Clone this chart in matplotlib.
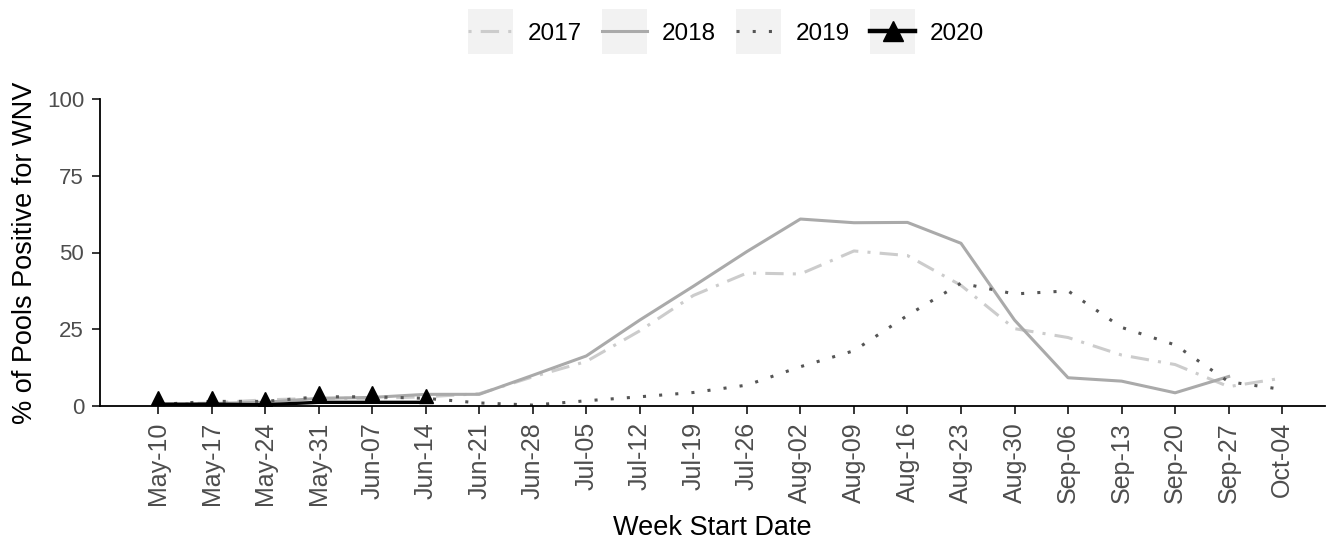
import numpy as np
import matplotlib
matplotlib.use("Agg")
import matplotlib.pyplot as plt
from matplotlib.lines import Line2D
from matplotlib.patches import Rectangle
from matplotlib.legend_handler import HandlerLine2D

plt.rcParams["font.family"] = ["Liberation Sans", "DejaVu Sans"]

weeks = ["May-10", "May-17", "May-24", "May-31", "Jun-07", "Jun-14", "Jun-21",
         "Jun-28", "Jul-05", "Jul-12", "Jul-19", "Jul-26", "Aug-02", "Aug-09",
         "Aug-16", "Aug-23", "Aug-30", "Sep-06", "Sep-13", "Sep-20", "Sep-27",
         "Oct-04"]

pct_2017 = [0.5, 1.0, 2.0, 2.5, 2.5, 3.0, 4.0, 9.5, 14.5, 24.5, 36.0, 43.3,
            43.0, 50.5, 49.0, 39.3, 25.2, 22.3, 16.6, 13.5, 6.3, 9.1]
pct_2018 = [0.0, 0.8, 1.2, 2.5, 2.8, 3.8, 3.8, 10.0, 16.3, 28.0, 39.0, 50.3,
            60.9, 59.7, 59.8, 53.0, 28.0, 9.2, 8.1, 4.3, 9.6, np.nan]
pct_2019 = [0.5, 1.5, 1.5, 3.0, 3.0, 2.5, 1.0, 0.3, 1.7, 3.0, 4.4, 6.8,
            12.8, 18.0, 29.5, 40.0, 36.5, 37.5, 25.6, 19.9, 7.9, 5.4]
pct_2020_line = [0.6, 0.6, 0.4, 1.2, 1.2, 1.2]
pct_2020_pts = [2.5, 2.5, 2.3, 4.2, 4.2, 3.3]

x = np.arange(len(weeks))
x20 = x[:len(pct_2020_line)]

c17, c18, c19, c20 = "#cccccc", "#aaaaaa", "#555555", "#000000"
txt_grey = "#4d4d4d"


class KeyHandler(HandlerLine2D):
    # legend key with a light grey box behind it, like ggplot
    def create_artists(self, legend, orig_handle, xdescent, ydescent,
                       width, height, fontsize, trans):
        box_h = 32.4
        bg = Rectangle((-xdescent, -ydescent + height / 2 - box_h / 2),
                       width, box_h, facecolor="#f2f2f2", edgecolor="none",
                       transform=trans)
        arts = super().create_artists(legend, orig_handle, xdescent, ydescent,
                                      width, height, fontsize, trans)
        return [bg] + arts


fig = plt.figure(figsize=(13.29, 5.40), dpi=100)
ax = fig.add_axes([100 / 1329, 1 - 406 / 540, 1225 / 1329, 307 / 540])

lw = 2.2
ax.plot(x, pct_2017, color=c17, lw=lw, linestyle=(0, (6, 3, 1, 3)))
ax.plot(x, pct_2018, color=c18, lw=lw)
ax.plot(x, pct_2019, color=c19, lw=lw, linestyle=(0, (1, 4.3)))
ax.plot(x20, pct_2020_line, color=c20, lw=2.4, solid_capstyle="butt")
ax.plot(x20, pct_2020_pts, color=c20, ls="none", marker="^", markersize=10.5)

ax.set_xlim(-1.084, 21.8)
ax.set_ylim(0, 100)
ax.set_xticks(x)
ax.set_xticklabels(weeks, rotation=90, fontsize=18, color=txt_grey)
ax.set_yticks([0, 25, 50, 75, 100])
ax.tick_params(axis="y", labelsize=16, labelcolor=txt_grey, pad=6)
ax.tick_params(axis="x", pad=6)
ax.tick_params(length=5.5, width=1.1, color="black")
for s in ["top", "right"]:
    ax.spines[s].set_visible(False)
for s in ["left", "bottom"]:
    ax.spines[s].set_linewidth(1.3)
    ax.spines[s].set_color("black")

ax.set_xlabel("Week Start Date", fontsize=19.5, labelpad=7)
ax.set_ylabel("% of Pools Positive for WNV", fontsize=19.5, labelpad=6)

handles = [
    Line2D([], [], color=c17, lw=lw, linestyle=(0, (1, 3, 6, 3))),
    Line2D([], [], color=c18, lw=lw),
    Line2D([], [], color=c19, lw=lw, linestyle=(0, (1, 4.3))),
    Line2D([], [], color=c20, lw=3.2, marker="^", markersize=15),
]
leg = fig.legend(handles, ["2017", "2018", "2019", "2020"], ncol=4,
                 loc="center", bbox_to_anchor=(726 / 1329, 1 - 34 / 540),
                 frameon=False, fontsize=17.5, handlelength=1.85,
                 handletextpad=0.58, columnspacing=0.86,
                 handler_map={Line2D: KeyHandler()})

fig.savefig("out.png", dpi=100)
